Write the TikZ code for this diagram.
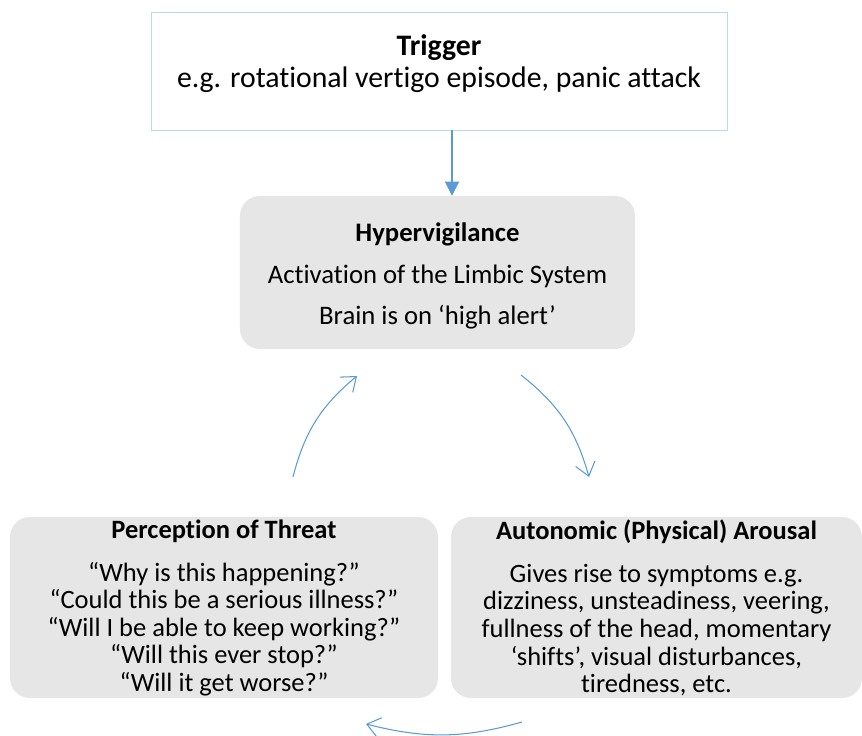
\documentclass[tikz,border=0pt]{standalone}
\usepackage{fontspec}
\setmainfont{Carlito}[Ligatures={TeX,NoCommon}]
\usetikzlibrary{arrows.meta}
\definecolor{arrowblue}{HTML}{5B9BD5}
\definecolor{edgeblue}{HTML}{BDD7EE}
\definecolor{boxgray}{HTML}{E7E6E6}

\begin{document}
\begin{tikzpicture}[x=0.03cm,y=-0.03cm,
		whitebox/.style={draw=edgeblue,line width=0.8pt,fill=white,minimum width=17.28cm,minimum height=3.54cm},
		graybox/.style={fill=boxgray,rounded corners=17pt},
		txt/.style={align=center,inner sep=0pt},
		flow/.style={draw=arrowblue,line width=0.9pt,-{Straight Barb[length=11pt,width=17pt]}}]
				\useasboundingbox (0,0) rectangle (862,736);
				% trigger
				\node[whitebox] (trigger) at (439,71) {};
				\node[txt,font=\fontsize{25.4}{27.3}\selectfont] (triggertxt) at (439,64) {\textbf{Trigger}\\e.g. rotational vertigo episode, panic attack};
				% the three grey boxes
				\node[graybox,minimum width=11.85cm,minimum height=4.59cm] (hyper) at (437.5,272.5) {};
				\node[graybox,minimum width=12.84cm,minimum height=5.43cm] (threat) at (224,607.5) {};
				\node[graybox,minimum width=12.33cm,minimum height=5.43cm] (arousal) at (656.5,607.5) {};
				\node[txt,font=\fontsize{22.8}{35.7}\selectfont] (hypertxt) at (437.5,276) {\textbf{Hypervigilance}\\Activation of the Limbic System\\Brain is on `high alert'};
				\node[txt,font=\fontsize{22.6}{23.5}\selectfont] (threattxt) at (224,608) {\textbf{Perception of Threat}\\[13pt]``Why is this happening?''\\``Could this be a serious illness?''\\``Will I be able to keep working?''\\``Will this ever stop?''\\``Will it get worse?''};
				\node[txt,font=\fontsize{22.6}{23.5}\selectfont] (arousaltxt) at (656.5,608) {\textbf{Autonomic (Physical) Arousal}\\[13pt]Gives rise to symptoms e.g.\\dizziness, unsteadiness, veering,\\fullness of the head, momentary\\`shifts', visual disturbances,\\tiredness, etc.};
				% arrows
				\coordinate (c1) at (293,477); \coordinate (c2) at (357,376);
				\coordinate (c3) at (521,375); \coordinate (c4) at (589,477);
				\coordinate (c5) at (522,722); \coordinate (c6) at (366,724);
				\draw[arrowblue,line width=0.9pt,-{Triangle[length=12pt,width=12pt]}] ([xshift=0.39cm]trigger.south) -- ([xshift=0.39cm]trigger.south |- hyper.north);
				\draw[flow] (c1) to[bend left=18] (c2);
				\draw[flow] (c3) to[bend left=18] (c4);
				\draw[flow] (c5) to[bend left=15] (c6);
			\end{tikzpicture}
\end{document}
